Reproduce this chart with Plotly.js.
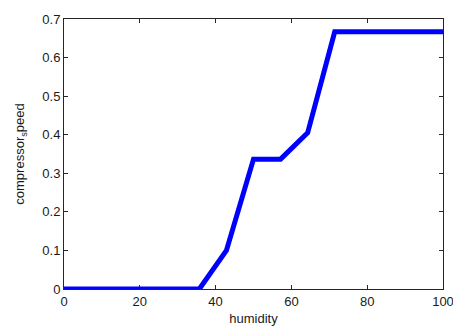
<!DOCTYPE html>
<html>
<head>
<meta charset="utf-8">
<script src="https://cdn.plot.ly/plotly-3.0.1.min.js"></script>
<style>html,body{margin:0;padding:0;background:#fff;}#chart{width:453px;height:327px;}</style>
</head>
<body>
<div id="chart"></div>
<script>
var humidity = [0, 35.71, 42.86, 50, 57.14, 64.29, 71.43, 100];
var compressorSpeed = [0, 0, 0.1, 0.3367, 0.3367, 0.405, 0.6667, 0.6667];
var xTicks = [0, 20, 40, 60, 80, 100];
var yTicks = [0, 0.1, 0.2, 0.3, 0.4, 0.5, 0.6, 0.7];

var fnt = 'Liberation Sans, Arial, sans-serif';
var trace = {
  x: humidity, y: compressorSpeed, type: 'scatter', mode: 'lines',
  line: {color: '#0000ff', width: 5}, hoverinfo: 'none'
};
var axisCommon = {
  showgrid: false, zeroline: false, showline: true, mirror: 'ticks',
  linecolor: '#262626', linewidth: 1, ticks: 'inside', ticklen: 4,
  tickcolor: '#262626', ticklabeloverflow: 'allow',
  tickfont: {family: fnt, size: 13, color: '#1a1a1a'}
};
var layout = {
  width: 453, height: 327,
  margin: {l: 64, r: 10, t: 19, b: 38},
  paper_bgcolor: '#fff', plot_bgcolor: '#fff',
  showlegend: false,
  xaxis: Object.assign({}, axisCommon, {
    range: [0, 100], tickvals: xTicks, ticktext: xTicks.map(String),
    title: {text: 'humidity', font: {family: fnt, size: 13, color: '#1a1a1a'}, standoff: 6}
  }),
  yaxis: Object.assign({}, axisCommon, {
    range: [0, 0.7], tickvals: yTicks, ticktext: yTicks.map(String),
    title: {text: 'compressor<sub>s</sub>peed', font: {family: fnt, size: 13, color: '#1a1a1a'}, standoff: 14}
  })
};
Plotly.newPlot('chart', [trace], layout, {staticPlot: true, displayModeBar: false});
</script>
</body>
</html>
